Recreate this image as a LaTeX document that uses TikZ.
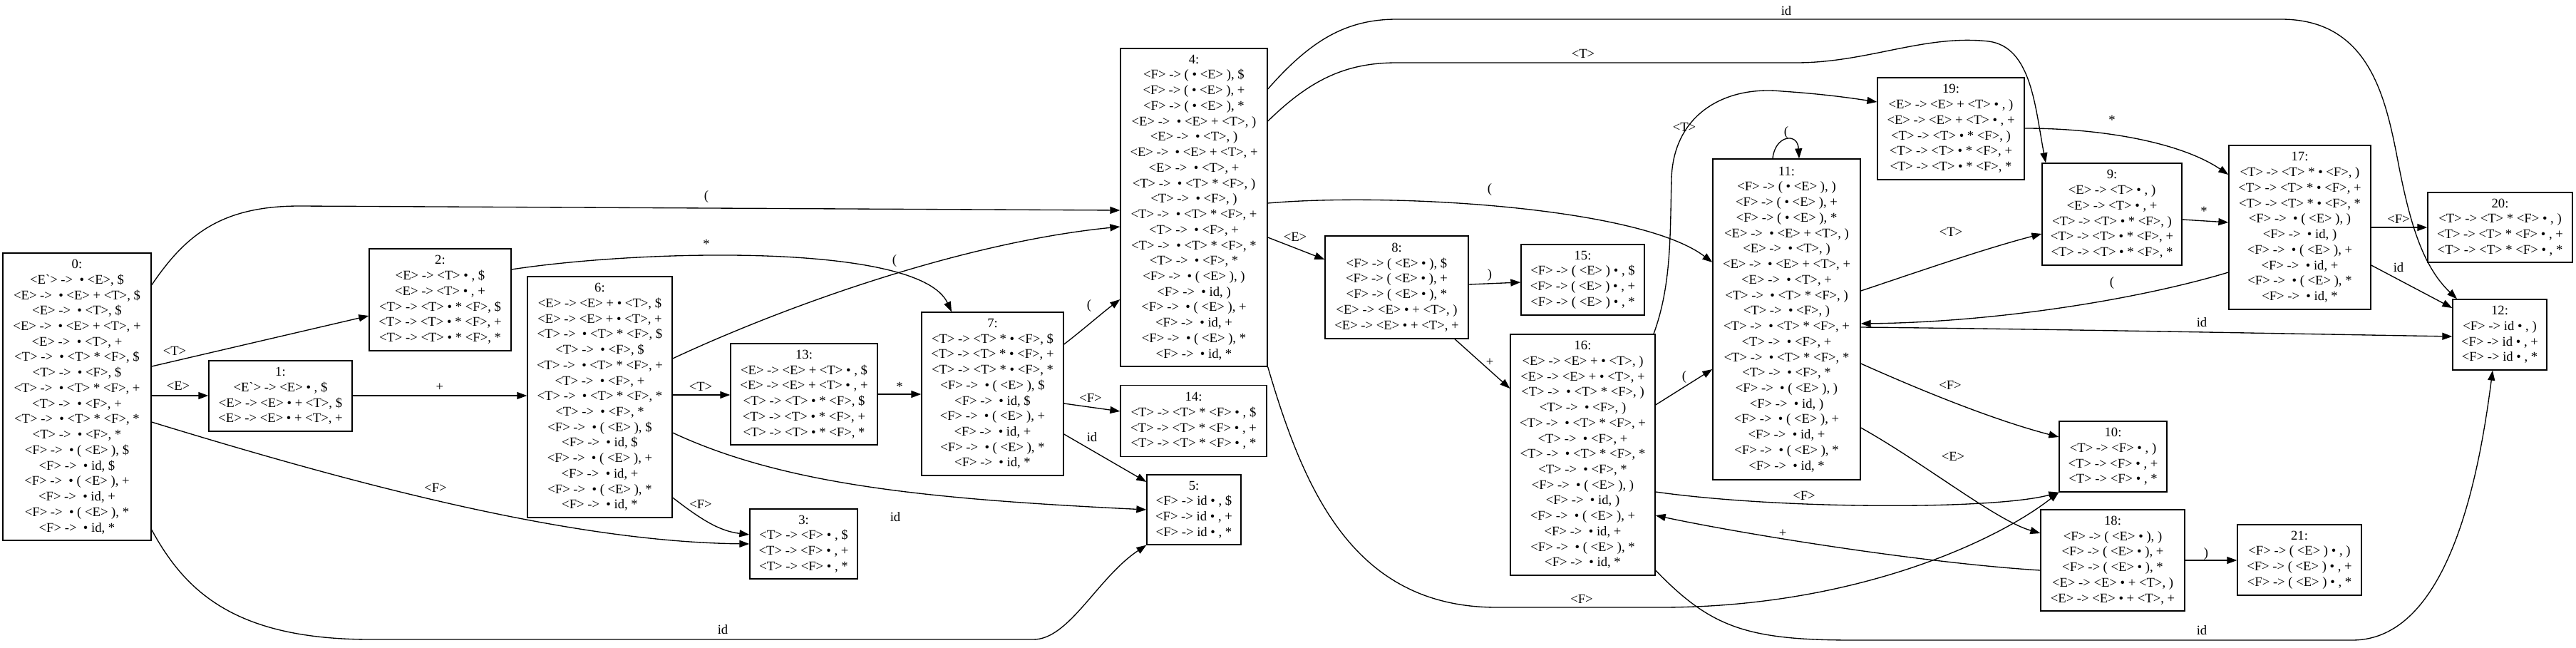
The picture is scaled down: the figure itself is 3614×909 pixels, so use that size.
\documentclass[tikz,border=0pt]{standalone}
\usepackage{fontspec}
\newfontfamily\gvfont{Liberation Serif}
\usetikzlibrary{arrows.meta}
\newcommand\dr{->\ \ \textbullet\ }
\newcommand\bu{\textbullet}
\begin{document}
\begin{tikzpicture}[x=0.75pt,y=-0.75pt,
 st/.style={draw, line width=1pt, align=center, inner sep=0pt, font=\gvfont\fontsize{14}{16.3}\selectfont},
 ed/.style={line width=1pt, -{Triangle[length=10.5pt,width=7.5pt]}},
 lb/.style={font=\gvfont\fontsize{14}{16}\selectfont, inner sep=1pt}]
\fill[white] (0,0) rectangle (3614,909);
\useasboundingbox (0,0) rectangle (3614,909);
% states
\node[st, minimum width=156pt, minimum height=302.25pt] (n0) at (108,556.5) {0:\\
<E\textasciigrave> \dr<E>, \$\\
<E> \dr<E> + <T>, \$\\
<E> \dr<T>, \$\\
<E> \dr<E> + <T>, +\\
<E> \dr<T>, +\\
<T> \dr<T> * <F>, \$\\
<T> \dr<F>, \$\\
<T> \dr<T> * <F>, +\\
<T> \dr<F>, +\\
<T> \dr<T> * <F>, *\\
<T> \dr<F>, *\\
<F> \dr( <E> ), \$\\
<F> \dr id, \$\\
<F> \dr( <E> ), +\\
<F> \dr id, +\\
<F> \dr( <E> ), *\\
<F> \dr id, *};
\node[st, minimum width=150.75pt, minimum height=74.25pt] (n1) at (393.5,555.5) {1:\\
<E\textasciigrave> -> <E> \bu\ , \$\\
<E> -> <E> \bu\ + <T>, \$\\
<E> -> <E> \bu\ + <T>, +};
\node[st, minimum width=149.25pt, minimum height=107.25pt] (n2) at (617.5,420.5) {2:\\
<E> -> <T> \bu\ , \$\\
<E> -> <T> \bu\ , +\\
<T> -> <T> \bu\ * <F>, \$\\
<T> -> <T> \bu\ * <F>, +\\
<T> -> <T> \bu\ * <F>, *};
\node[st, minimum width=113.25pt, minimum height=73.5pt] (n3) at (1127.5,763) {3:\\
<T> -> <F> \bu\ , \$\\
<T> -> <F> \bu\ , +\\
<T> -> <F> \bu\ , *};
\node[st, minimum width=154.5pt, minimum height=334.5pt] (n4) at (1675,291) {4:\\
<F> -> ( \bu\ <E> ), \$\\
<F> -> ( \bu\ <E> ), +\\
<F> -> ( \bu\ <E> ), *\\
<E> \dr<E> + <T>, )\\
<E> \dr<T>, )\\
<E> \dr<E> + <T>, +\\
<E> \dr<T>, +\\
<T> \dr<T> * <F>, )\\
<T> \dr<F>, )\\
<T> \dr<T> * <F>, +\\
<T> \dr<F>, +\\
<T> \dr<T> * <F>, *\\
<T> \dr<F>, *\\
<F> \dr( <E> ), )\\
<F> \dr id, )\\
<F> \dr( <E> ), +\\
<F> \dr id, +\\
<F> \dr( <E> ), *\\
<F> \dr id, *};
\node[st, minimum width=99pt, minimum height=73.5pt] (n5) at (1675,715) {5:\\
<F> -> id \bu\ , \$\\
<F> -> id \bu\ , +\\
<F> -> id \bu\ , *};
\node[st, minimum width=152.25pt, minimum height=253.5pt] (n6) at (841.5,557) {6:\\
<E> -> <E> + \bu\ <T>, \$\\
<E> -> <E> + \bu\ <T>, +\\
<T> \dr<T> * <F>, \$\\
<T> \dr<F>, \$\\
<T> \dr<T> * <F>, +\\
<T> \dr<F>, +\\
<T> \dr<T> * <F>, *\\
<T> \dr<F>, *\\
<F> \dr( <E> ), \$\\
<F> \dr id, \$\\
<F> \dr( <E> ), +\\
<F> \dr id, +\\
<F> \dr( <E> ), *\\
<F> \dr id, *};
\node[st, minimum width=149.25pt, minimum height=171.75pt] (n7) at (1392.5,552.5) {7:\\
<T> -> <T> * \bu\ <F>, \$\\
<T> -> <T> * \bu\ <F>, +\\
<T> -> <T> * \bu\ <F>, *\\
<F> \dr( <E> ), \$\\
<F> \dr id, \$\\
<F> \dr( <E> ), +\\
<F> \dr id, +\\
<F> \dr( <E> ), *\\
<F> \dr id, *};
\node[st, minimum width=150.75pt, minimum height=108pt] (n8) at (1959.5,403) {8:\\
<F> -> ( <E> \bu\ ), \$\\
<F> -> ( <E> \bu\ ), +\\
<F> -> ( <E> \bu\ ), *\\
<E> -> <E> \bu\ + <T>, )\\
<E> -> <E> \bu\ + <T>, +};
\node[st, minimum width=147pt, minimum height=107.25pt] (n9) at (2963,300.5) {9:\\
<E> -> <T> \bu\ , )\\
<E> -> <T> \bu\ , +\\
<T> -> <T> \bu\ * <F>, )\\
<T> -> <T> \bu\ * <F>, +\\
<T> -> <T> \bu\ * <F>, *};
\node[st, minimum width=113.25pt, minimum height=74.25pt] (n10) at (2964.5,640.5) {10:\\
<T> -> <F> \bu\ , )\\
<T> -> <F> \bu\ , +\\
<T> -> <F> \bu\ , *};
\node[st, minimum width=155.25pt, minimum height=337.5pt] (n11) at (2506.5,448) {11:\\
<F> -> ( \bu\ <E> ), )\\
<F> -> ( \bu\ <E> ), +\\
<F> -> ( \bu\ <E> ), *\\
<E> \dr<E> + <T>, )\\
<E> \dr<T>, )\\
<E> \dr<E> + <T>, +\\
<E> \dr<T>, +\\
<T> \dr<T> * <F>, )\\
<T> \dr<F>, )\\
<T> \dr<T> * <F>, +\\
<T> \dr<F>, +\\
<T> \dr<T> * <F>, *\\
<T> \dr<F>, *\\
<F> \dr( <E> ), )\\
<F> \dr id, )\\
<F> \dr( <E> ), +\\
<F> \dr id, +\\
<F> \dr( <E> ), *\\
<F> \dr id, *};
\node[st, minimum width=99pt, minimum height=74.25pt] (n12) at (3507,469.5) {12:\\
<F> -> id \bu\ , )\\
<F> -> id \bu\ , +\\
<F> -> id \bu\ , *};
\node[st, minimum width=154.5pt, minimum height=106.5pt] (n13) at (1128,553) {13:\\
<E> -> <E> + <T> \bu\ , \$\\
<E> -> <E> + <T> \bu\ , +\\
<T> -> <T> \bu\ * <F>, \$\\
<T> -> <T> \bu\ * <F>, +\\
<T> -> <T> \bu\ * <F>, *};
\node[st, minimum width=153.75pt, minimum height=75pt] (n14) at (1674.5,590.5) {14:\\
<T> -> <T> * <F> \bu\ , \$\\
<T> -> <T> * <F> \bu\ , +\\
<T> -> <T> * <F> \bu\ , *};
\node[st, minimum width=129.75pt, minimum height=74.25pt] (n15) at (2220.5,392.5) {15:\\
<F> -> ( <E> ) \bu\ , \$\\
<F> -> ( <E> ) \bu\ , +\\
<F> -> ( <E> ) \bu\ , *};
\node[st, minimum width=152.25pt, minimum height=253.5pt] (n16) at (2220.5,638) {16:\\
<E> -> <E> + \bu\ <T>, )\\
<E> -> <E> + \bu\ <T>, +\\
<T> \dr<T> * <F>, )\\
<T> \dr<F>, )\\
<T> \dr<T> * <F>, +\\
<T> \dr<F>, +\\
<T> \dr<T> * <F>, *\\
<T> \dr<F>, *\\
<F> \dr( <E> ), )\\
<F> \dr id, )\\
<F> \dr( <E> ), +\\
<F> \dr id, +\\
<F> \dr( <E> ), *\\
<F> \dr id, *};
\node[st, minimum width=149.25pt, minimum height=172.5pt] (n17) at (3226.5,319) {17:\\
<T> -> <T> * \bu\ <F>, )\\
<T> -> <T> * \bu\ <F>, +\\
<T> -> <T> * \bu\ <F>, *\\
<F> \dr( <E> ), )\\
<F> \dr id, )\\
<F> \dr( <E> ), +\\
<F> \dr id, +\\
<F> \dr( <E> ), *\\
<F> \dr id, *};
\node[st, minimum width=151.5pt, minimum height=106.5pt] (n18) at (2964,786) {18:\\
<F> -> ( <E> \bu\ ), )\\
<F> -> ( <E> \bu\ ), +\\
<F> -> ( <E> \bu\ ), *\\
<E> -> <E> \bu\ + <T>, )\\
<E> -> <E> \bu\ + <T>, +};
\node[st, minimum width=154.5pt, minimum height=107.25pt] (n19) at (2737,180.5) {19:\\
<E> -> <E> + <T> \bu\ , )\\
<E> -> <E> + <T> \bu\ , +\\
<T> -> <T> \bu\ * <F>, )\\
<T> -> <T> \bu\ * <F>, +\\
<T> -> <T> \bu\ * <F>, *};
\node[st, minimum width=152.25pt, minimum height=73.5pt] (n20) at (3507.5,319) {20:\\
<T> -> <T> * <F> \bu\ , )\\
<T> -> <T> * <F> \bu\ , +\\
<T> -> <T> * <F> \bu\ , *};
\node[st, minimum width=130.5pt, minimum height=74.25pt] (n21) at (3226,785.5) {21:\\
<F> -> ( <E> ) \bu\ , )\\
<F> -> ( <E> ) \bu\ , +\\
<F> -> ( <E> ) \bu\ , *};
% transitions
\draw[ed] (n0.east |- 0,514) -- (n2.west |- 0,443);
\draw[ed] (n0.east |- 0,555) -- (n1.west |- 0,555);
\draw[ed] (n1.east |- 0,555) -- (n6.west |- 0,555);
\draw[ed] (n0.east |- 0,592) .. controls (500,680) and (800,760) .. (n3.west |- 0,763);
\draw[ed] (n0.east |- 0,743) .. controls (260,830) and (330,897) .. (520,897) -- (1450,897) .. controls (1500,897) and (1540,810) .. (n5.south west);
\draw[ed] (n0.east |- 0,400) .. controls (260,330) and (310,289) .. (420,289) -- (n4.west |- 0,295);
\draw[ed] (n2.east |- 0,378) .. controls (900,350) and (1290,340) .. (n7.north -| 1335,0);
\draw[ed] (n6.east |- 0,503) .. controls (1100,430) and (1350,340) .. (n4.west |- 0,318);
\draw[ed] (n6.east |- 0,554) -- (n13.west |- 0,554);
\draw[ed] (n6.east |- 0,698) .. controls (985,730) and (1010,745) .. (n3.west |- 0,750);
\draw[ed] (n6.east |- 0,607) .. controls (1100,680) and (1300,700) .. (n5.west |- 0,715);
\draw[ed] (n13.east |- 0,553) -- (n7.west |- 0,553);
\draw[ed] (n7.east |- 0,483) .. controls (1520,462) and (1545,440) .. (n4.west |- 0,420);
\draw[ed] (n7.east |- 0,566) -- (n14.west |- 0,577);
\draw[ed] (n7.east |- 0,609) -- (n5.west |- 0,676);
\draw[ed] (n4.east |- 0,333) -- (n8.west |- 0,364);
\draw[ed] (n4.east |- 0,285) .. controls (1950,270) and (2300,290) .. (n11.west |- 0,368);
\draw[ed] (n4.east |- 0,170) .. controls (1840,110) and (1890,88) .. (1960,88) -- (2520,88) .. controls (2620,88) and (2700,48) .. (2790,58) .. controls (2850,66) and (2855,150) .. (n9.north -| 2870,0);
\draw[ed] (n4.east |- 0,125) .. controls (1840,55) and (1890,27) .. (1960,27) -- (3200,27) .. controls (3320,27) and (3345,130) .. (3362,215) .. controls (3378,300) and (3395,370) .. (n12.north -| 3447,0);
\draw[ed] (n4.south east) .. controls (1830,690) and (1900,852) .. (2100,852) -- (2330,852) .. controls (2600,852) and (2800,760) .. (n10.south west);
\draw[ed] (n8.east |- 0,399) -- (n15.west |- 0,396);
\draw[ed] (n8.south -| 2041,0) -- (n16.west |- 0,545);
\draw[ed] (n16.north -| 2320,0) .. controls (2345,400) and (2343,330) .. (2345,250) .. controls (2348,160) and (2420,120) .. (2500,128) .. controls (2560,132) and (2600,138) .. (n19.west |- 0,143);
\draw[ed] (n16.east |- 0,568) -- (n11.west |- 0,518);
\draw[ed] (n16.east |- 0,690) .. controls (2500,715) and (2800,715) .. (n10.south west);
\draw[ed] (n16.east |- 0,800) .. controls (2400,880) and (2450,898) .. (2600,898) -- (3300,898) .. controls (3440,898) and (3480,650) .. (n12.south -| 3497,0);
\draw[ed] (n11.east |- 0,408) .. controls (2680,385) and (2780,350) .. (n9.west |- 0,328);
\draw[ed] (n11.north -| 2487,0) .. controls (2490,190) and (2522,185) .. (n11.north -| 2524,0);
\draw[ed] (n11.east |- 0,459) .. controls (2900,462) and (3200,468) .. (n12.west |- 0,472);
\draw[ed] (n17.west |- 0,382) .. controls (3000,420) and (2800,452) .. (n11.east |- 0,454);
\draw[ed] (n11.east |- 0,510) .. controls (2700,550) and (2800,590) .. (n10.west |- 0,613);
\draw[ed] (n11.east |- 0,600) .. controls (2700,650) and (2800,730) .. (n18.west |- 0,748);
\draw[ed] (n18.west |- 0,800) .. controls (2700,790) and (2450,750) .. (n16.east |- 0,723);
\draw[ed] (n18.east |- 0,786) -- (n21.west |- 0,786);
\draw[ed] (n9.east |- 0,308) -- (n17.west |- 0,312);
\draw[ed] (n19.east |- 0,180) .. controls (2950,180) and (3060,200) .. (n17.west |- 0,245);
\draw[ed] (n17.east |- 0,319) -- (n20.west |- 0,319);
\draw[ed] (n17.east |- 0,372) -- (n12.west |- 0,432);
% labels
\node[lb] (l02) at (245,492) {<T>};
\node[lb] (l01) at (250,541) {<E>};
\node[lb] (l16) at (617,543) {+};
\node[lb] (l03) at (611,684) {<F>};
\node[lb] (l05) at (1014,883) {id};
\node[lb] (l04) at (991,276) {(};
\node[lb] (l27) at (991,342) {*};
\node[lb] (l64) at (1255,366) {(};
\node[lb] (l613) at (983,542) {<T>};
\node[lb] (l63) at (983,707) {<F>};
\node[lb] (l65) at (1256,725) {id};
\node[lb] (l137) at (1262,542) {*};
\node[lb] (l74) at (1528,429) {(};
\node[lb] (l714) at (1530,558) {<F>};
\node[lb] (l75) at (1532,613) {id};
\node[lb] (l48) at (1817,332) {<E>};
\node[lb] (l411) at (2090,266) {(};
\node[lb] (l49) at (2221,75) {<T>};
\node[lb] (l412) at (2506,15) {id};
\node[lb] (l410) at (2219,840) {<F>};
\node[lb] (l815) at (2090,386) {)};
\node[lb] (l816) at (2090,508) {+};
\node[lb] (l1619) at (2363,178) {<T>};
\node[lb] (l1611) at (2363,529) {(};
\node[lb] (l1610) at (2531,695) {<F>};
\node[lb] (l1612) at (3089,884) {id};
\node[lb] (l119) at (2737,325) {<T>};
\node[lb] (l1111) at (2506,186) {(};
\node[lb] (l1112) at (3089,452) {id};
\node[lb] (l1711) at (2963,397) {(};
\node[lb] (l1110) at (2736,540) {<F>};
\node[lb] (l1118) at (2740,640) {<E>};
\node[lb] (l1816) at (2501,748) {+};
\node[lb] (l1821) at (3095,777) {)};
\node[lb] (l917) at (3092,296) {*};
\node[lb] (l1917) at (2963,168) {*};
\node[lb] (l1720) at (3365,307) {<F>};
\node[lb] (l1712) at (3365,375) {id};
\end{tikzpicture}
\end{document}
